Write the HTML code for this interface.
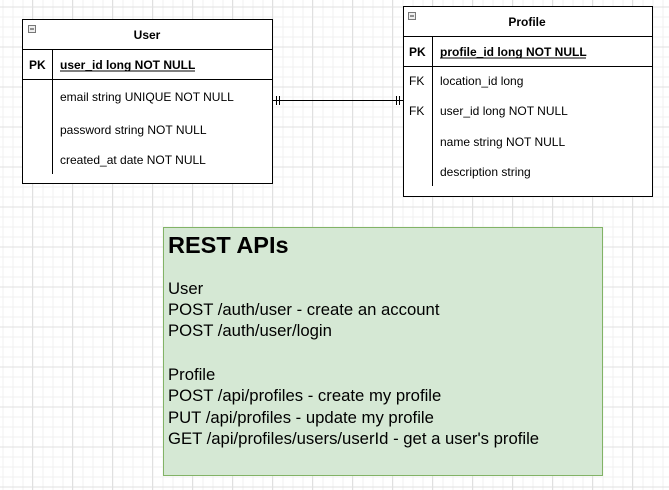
<!DOCTYPE html>
<html><head><meta charset="utf-8"><style>
html,body{margin:0;padding:0;background:#fff}
svg{display:block}
text{font-family:"Liberation Sans",Arial,sans-serif;fill:#000}
</style></head><body>
<svg width="669" height="490" viewBox="0 0 669 490" xmlns="http://www.w3.org/2000/svg">
<defs>
<pattern id="minor" width="10" height="10" patternUnits="userSpaceOnUse" x="2.5" y="6.5">
<path d="M0 0.5H10M0.5 0V10" stroke="#f0f0f0" stroke-width="1" fill="none"/>
</pattern>
<pattern id="major" width="40" height="40" patternUnits="userSpaceOnUse" x="32" y="6.5">
<path d="M0 0.5H40M0.5 0V40" stroke="#e0e0e0" stroke-width="1" fill="none"/>
</pattern>
</defs>
<rect width="669" height="490" fill="url(#minor)"/>
<rect width="669" height="490" fill="url(#major)"/>

<g stroke="#000" fill="none">
<rect x="22.5" y="19.5" width="250" height="164" fill="#fff"/>
<line x1="22" y1="49.5" x2="272" y2="49.5"/>
<line x1="22" y1="79.5" x2="272" y2="79.5"/>
<line x1="52.5" y1="49" x2="52.5" y2="174"/>
<rect x="28.5" y="25.5" width="7" height="7" fill="#eee" stroke="#777"/>
<line x1="30" y1="29" x2="34" y2="29" stroke="#333"/>
</g>
<text x="147" y="39" font-size="12" font-weight="bold" text-anchor="middle">User</text>
<text x="29" y="69" font-size="12" font-weight="bold">PK</text>
<text x="60" y="69" font-size="12" font-weight="bold">user_id long NOT NULL</text>
<line x1="60" y1="71" x2="195" y2="71" stroke="#000"/>
<text x="60" y="101" font-size="12">email string UNIQUE NOT NULL</text>
<text x="60" y="134" font-size="12">password string NOT NULL</text>
<text x="60" y="164" font-size="12">created_at date NOT NULL</text>

<g stroke="#000" fill="none">
<rect x="403.5" y="6.5" width="249" height="190" fill="#fff"/>
<line x1="403" y1="36.5" x2="652" y2="36.5"/>
<line x1="403" y1="66.5" x2="652" y2="66.5"/>
<line x1="432.5" y1="36" x2="432.5" y2="186"/>
<rect x="408.5" y="12.5" width="7" height="7" fill="#eee" stroke="#777"/>
<line x1="410" y1="16" x2="414" y2="16" stroke="#333"/>
</g>
<text x="527" y="26" font-size="12" font-weight="bold" text-anchor="middle">Profile</text>
<text x="409" y="56" font-size="12" font-weight="bold">PK</text>
<text x="440" y="56" font-size="12" font-weight="bold">profile_id long NOT NULL</text>
<line x1="440" y1="58" x2="586" y2="58" stroke="#000"/>
<text x="409" y="85" font-size="12">FK</text>
<text x="440" y="85" font-size="12">location_id long</text>
<text x="409" y="115" font-size="12">FK</text>
<text x="440" y="115" font-size="12">user_id long NOT NULL</text>
<text x="440" y="146" font-size="12">name string NOT NULL</text>
<text x="440" y="176" font-size="12">description string</text>

<g stroke="#000">
<line x1="273" y1="100.5" x2="403" y2="100.5"/>
<line x1="276.5" y1="96" x2="276.5" y2="105"/>
<line x1="279.5" y1="96" x2="279.5" y2="105"/>
<line x1="396.5" y1="96" x2="396.5" y2="105"/>
<line x1="399.5" y1="96" x2="399.5" y2="105"/>
</g>

<rect x="163.5" y="227.5" width="439" height="248" fill="#d5e8d4" stroke="#82b366"/>
<text x="168" y="253" font-size="23.5" font-weight="bold">REST APIs</text>
<g font-size="16.7">
<text x="168" y="294">User</text>
<text x="168" y="315">POST /auth/user - create an account</text>
<text x="168" y="336">POST /auth/user/login</text>
<text x="168" y="380">Profile</text>
<text x="168" y="401">POST /api/profiles - create my profile</text>
<text x="168" y="423">PUT /api/profiles - update my profile</text>
<text x="168" y="444">GET /api/profiles/users/userId - get a user's profile</text>
</g>
</svg>
</body></html>
